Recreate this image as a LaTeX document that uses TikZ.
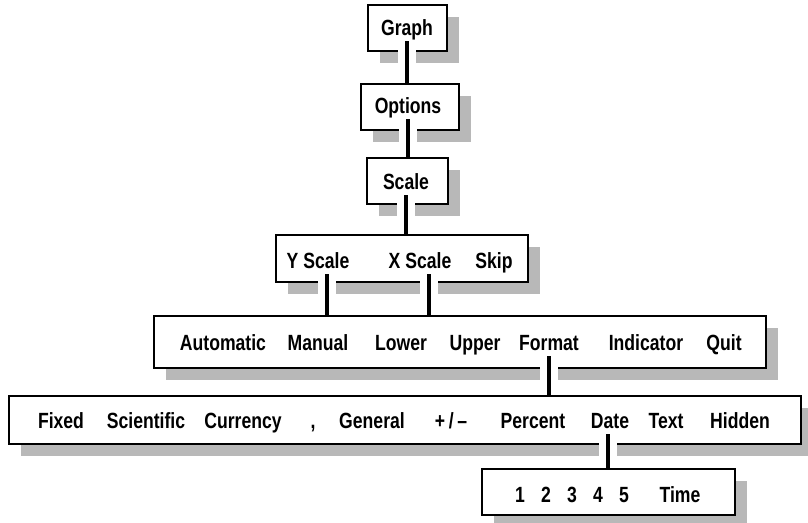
\documentclass[tikz,border=0pt]{standalone}
\usepackage{fontspec}
\setsansfont{Liberation Sans}[FakeStretch=0.8]
\usetikzlibrary{shadows}

\begin{document}
\begin{tikzpicture}[x=1pt, y=-1pt,
    menubox/.style={draw, line width=2pt, fill=white, inner sep=0pt,
      drop shadow={shadow xshift=12pt, shadow yshift=-12pt, fill=black!28, opacity=1}},
    item/.style={font=\sffamily\bfseries\fontsize{22}{22}\selectfont, anchor=base, inner sep=2pt, text depth=4pt},
    link/.style={line width=3.5pt},
    gap/.style={white, line width=18pt, shorten >=5pt}]
  \useasboundingbox (0,0) rectangle (808,522);

  % menu boxes
  \node[menubox, minimum width=79pt, minimum height=46pt] (graphbox) at (407.5,28) {};
  \node[menubox, minimum width=98pt, minimum height=46pt] (optionsbox) at (410,107) {};
  \node[menubox, minimum width=81pt, minimum height=46pt] (scalebox) at (407.5,181) {};
  \node[menubox, minimum width=252pt, minimum height=47pt] (yscalebox) at (402,258.5) {};
  \node[menubox, minimum width=612pt, minimum height=52pt] (automaticbox) at (460,342) {};
  \node[menubox, minimum width=792pt, minimum height=48pt] (fixedbox) at (405,420) {};
  \node[menubox, minimum width=253pt, minimum height=46pt] (timebox) at (608.5,492) {};

  % menu entries (placed by their base line)
  \node[item] (graph) at (407,35) {Graph};
  \node[item] (options) at (408,113) {Options};
  \node[item] (scale) at (406,189) {Scale};

  \node[item] (yscale) at (318,268) {Y Scale};
  \node[item] (xscale) at (420,268) {X Scale};
  \node[item] (skip) at (494,268) {Skip};

  \node[item] (automatic) at (223,350) {Automatic};
  \node[item] (manual) at (318,350) {Manual};
  \node[item] (lower) at (401,350) {Lower};
  \node[item] (upper) at (475,350) {Upper};
  \node[item] (format) at (549,350) {Format};
  \node[item] (indicator) at (646,350) {Indicator};
  \node[item] (quit) at (724,350) {Quit};

  \node[item] (fixed) at (61,428) {Fixed};
  \node[item] (scientific) at (146,428) {Scientific};
  \node[item] (currency) at (243,428) {Currency};
  \node[item] (comma) at (313,428) {,};
  \node[item] (general) at (372,428) {General};
  \node[item] (plusminus) at (451,428) {+\,/\,--};
  \node[item] (percent) at (533,428) {Percent};
  \node[item] (date) at (610,428) {Date};
  \node[item] (text) at (666,428) {Text};
  \node[item] (hidden) at (740,428) {Hidden};

  \node[item] (one) at (520,502) {1};
  \node[item] (two) at (546,502) {2};
  \node[item] (three) at (572,502) {3};
  \node[item] (four) at (598,502) {4};
  \node[item] (five) at (624,502) {5};
  \node[item] (time) at (680,502) {Time};

  % connectors, cut through the border and shadow of the upper box
  \foreach \a/\b/\s in {graph/optionsbox/0, options/scalebox/0, scale/yscalebox/0,
      yscale/automaticbox/9, xscale/automaticbox/9, format/fixedbox/0, date/timebox/-2} {
    \draw[gap] ([xshift=\s pt]\a.south) -- ([xshift=\s pt]\a.south |- \b.north);
    \draw[link] ([xshift=\s pt]\a.south) -- ([xshift=\s pt]\a.south |- \b.north);
  }
\end{tikzpicture}
\end{document}
